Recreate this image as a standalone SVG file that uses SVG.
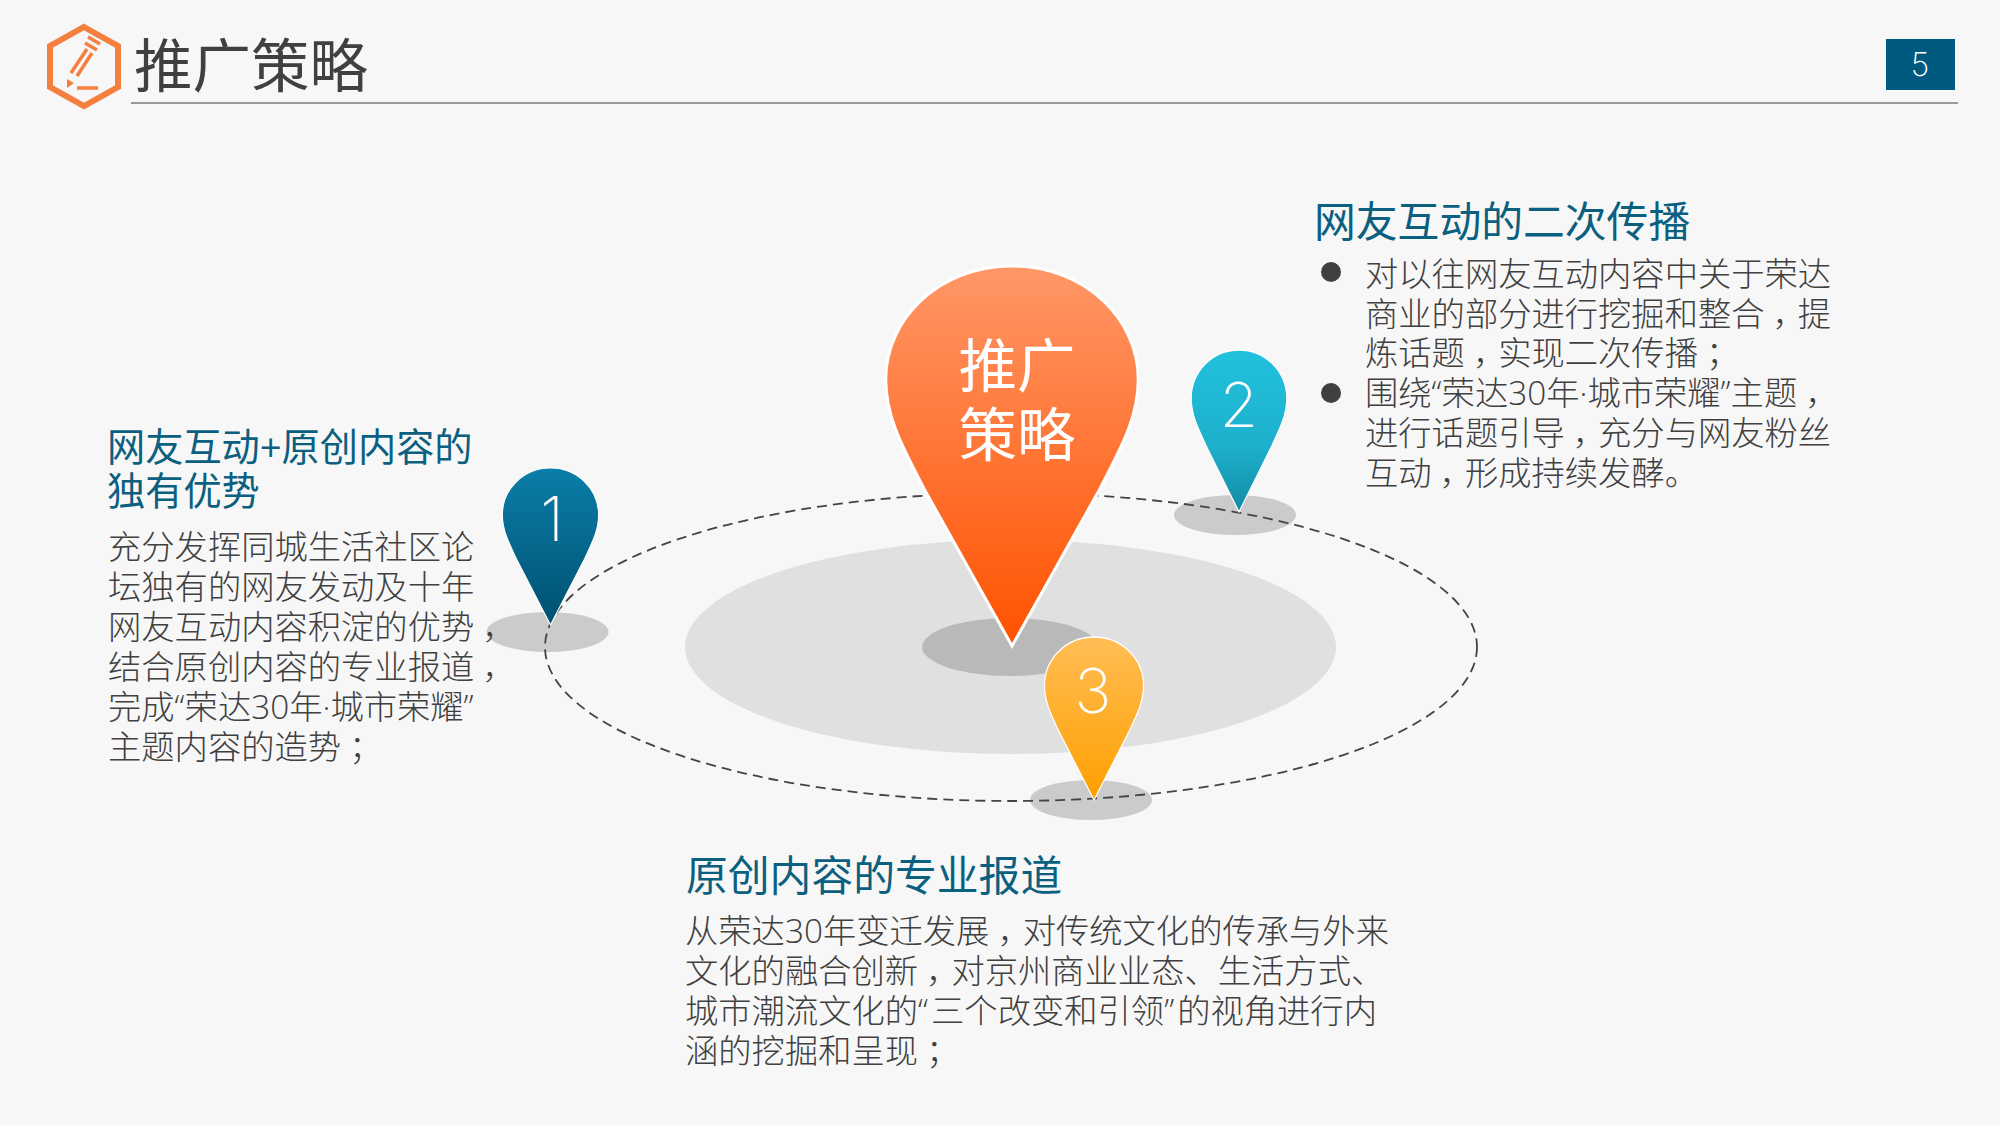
<svg xmlns="http://www.w3.org/2000/svg" width="2000" height="1125" viewBox="0 0 2000 1125">
<style>
text{font-family:"Open Sans","Noto Sans CJK SC",sans-serif;font-weight:300}
.t{font-size:33.3px;fill:#404040}
.h{font-size:41.8px;fill:#0b5f7f;font-weight:400}
.h2{font-size:38.2px}
.pn{fill:#fff;font-size:62px;text-anchor:middle;font-family:Inter,"Open Sans",sans-serif;font-weight:200}
.pin{stroke:#fff;stroke-width:3;vector-effect:non-scaling-stroke}
.sh{fill:#cbcbcb}
.ic{fill:none;stroke:#f47f3e;stroke-linecap:butt}
.p{letter-spacing:-8px}
</style>
<defs>
<linearGradient id="g0" x1="0" y1="0" x2="0" y2="1"><stop offset="0" stop-color="#ff9768"/><stop offset="1" stop-color="#ff5200"/></linearGradient>
<linearGradient id="g1" x1="0" y1="0" x2="0" y2="1"><stop offset="0" stop-color="#0a7ea9"/><stop offset="1" stop-color="#00506f"/></linearGradient>
<linearGradient id="g2" x1="0" y1="0" x2="0" y2="1"><stop offset="0" stop-color="#22c1de"/><stop offset=".6" stop-color="#1db0cc"/><stop offset="1" stop-color="#128aa5"/></linearGradient>
<linearGradient id="g3" x1="0" y1="0" x2="0" y2="1"><stop offset="0" stop-color="#ffbe55"/><stop offset="1" stop-color="#ff9f00"/></linearGradient>
<path id="pin" d="M0 380L-87 223C-107 183-125 153-125 113C-125 53-72 0 0 0C72 0 125 53 125 113C125 153 107 183 87 223Z"/>
</defs>
<rect width="2000" height="1125" fill="#f7f7f7"/>

<g id="header">
<polygon class="ic" stroke-width="6" points="84,27 118,46 118,87 84,106 50,87 50,46"/>
<path class="ic" stroke-width="3.5" d="M71 73L87 49M77 76L92 53M85 43L97 50M88 37L100 44M77 88H98"/>
<polygon points="67,88 67,79 74,83" fill="#f47f3e"/>
<text x="134" y="87" font-size="58.5" fill="#404040" style="font-weight:400">推广策略</text>
<line x1="131" y1="103" x2="1958" y2="103" stroke="#999" stroke-width="2"/>
</g>
<g id="page-number">
<rect x="1886" y="39" width="69" height="51" fill="#005a80"/>
<text class="pn" x="1920" y="76" style="font-size:32px">5</text>
</g>

<g id="base">
<ellipse cx="1010.5" cy="647" rx="325.5" ry="107" fill="#e0e0e0"/>
<ellipse cx="1010" cy="647" rx="88" ry="29" fill="#b9b9b9"/>
<ellipse class="sh" cx="547.5" cy="632" rx="61" ry="20"/>
<ellipse class="sh" cx="1235" cy="515" rx="61" ry="20"/>
<ellipse class="sh" cx="1091" cy="800" rx="61" ry="20"/>
</g>
<g id="connectors">
<ellipse cx="1011" cy="647" rx="466" ry="154" fill="none" stroke="#444" stroke-width="1.8" stroke-dasharray="10 6"/>
</g>

<g id="pin-main">
<use href="#pin" class="pin" fill="url(#g0)" transform="translate(1012 266) scale(1.01 1)"/>
<text x="1017" y="387" font-size="58.5" fill="#fff" text-anchor="middle" style="font-weight:400">推广</text>
<text x="1017" y="456" font-size="58.5" fill="#fff" text-anchor="middle" style="font-weight:400">策略</text>
</g>
<g id="pin-1">
<use href="#pin" class="pin" fill="url(#g1)" transform="translate(550.5 468) scale(.385 .413)"/>
<text class="pn" x="552" y="541">1</text>
</g>
<g id="pin-2">
<use href="#pin" class="pin" fill="url(#g2)" transform="translate(1239 350) scale(.382 .426)"/>
<text class="pn" x="1239" y="427">2</text>
</g>
<g id="pin-3">
<use href="#pin" class="pin" fill="url(#g3)" transform="translate(1094 637) scale(.396 .429)"/>
<text class="pn" x="1093" y="713">3</text>
</g>

<g id="text-1">
<text class="h h2" x="107" y="461">网友互动+原创内容的</text>
<text class="h h2" x="107" y="505">独有优势</text>
<text class="t" x="108" y="559">充分发挥同城生活社区论</text>
<text class="t" x="108" y="599">坛独有的网友发动及十年</text>
<text class="t" x="108" y="639">网友互动内容积淀的优势<tspan class="p" dx="8">，</tspan></text>
<text class="t" x="108" y="679">结合原创内容的专业报道<tspan class="p" dx="8">，</tspan></text>
<text class="t" x="108" y="719">完成“荣达30年·城市荣耀”</text>
<text class="t" x="108" y="759">主题内容的造势<tspan class="p" dx="8">；</tspan></text>
</g>
<g id="text-2">
<text class="h" x="1314" y="237">网友互动的二次传播</text>
<circle cx="1331" cy="272" r="10" fill="#404040"/>
<circle cx="1331" cy="393" r="10" fill="#404040"/>
<text class="t" x="1365" y="286">对以往网友互动内容中关于荣达</text>
<text class="t" x="1365" y="326">商业的部分进行挖掘和整合<tspan class="p" dx="8">，</tspan>提</text>
<text class="t" x="1365" y="365">炼话题<tspan class="p" dx="8">，</tspan>实现二次传播<tspan class="p" dx="8">；</tspan></text>
<text class="t" x="1365" y="405">围绕“荣达30年·城市荣耀”主题<tspan class="p" dx="8">，</tspan></text>
<text class="t" x="1365" y="445">进行话题引导<tspan class="p" dx="8">，</tspan>充分与网友粉丝</text>
<text class="t" x="1365" y="485">互动<tspan class="p" dx="8">，</tspan>形成持续发酵。</text>
</g>
<g id="text-3">
<text class="h" x="686" y="891">原创内容的专业报道</text>
<text class="t" x="685" y="943">从荣达30年变迁发展<tspan class="p" dx="8">，</tspan>对传统文化的传承与外来</text>
<text class="t" x="685" y="983">文化的融合创新<tspan class="p" dx="8">，</tspan>对京州商业业态、生活方式、</text>
<text class="t" x="685" y="1023">城市潮流文化的“<tspan dx="3">三个改变和引领</tspan>”<tspan dx="3">的视角进行内</tspan></text>
<text class="t" x="685" y="1063">涵的挖掘和呈现<tspan class="p" dx="8">；</tspan></text>
</g>
</svg>
